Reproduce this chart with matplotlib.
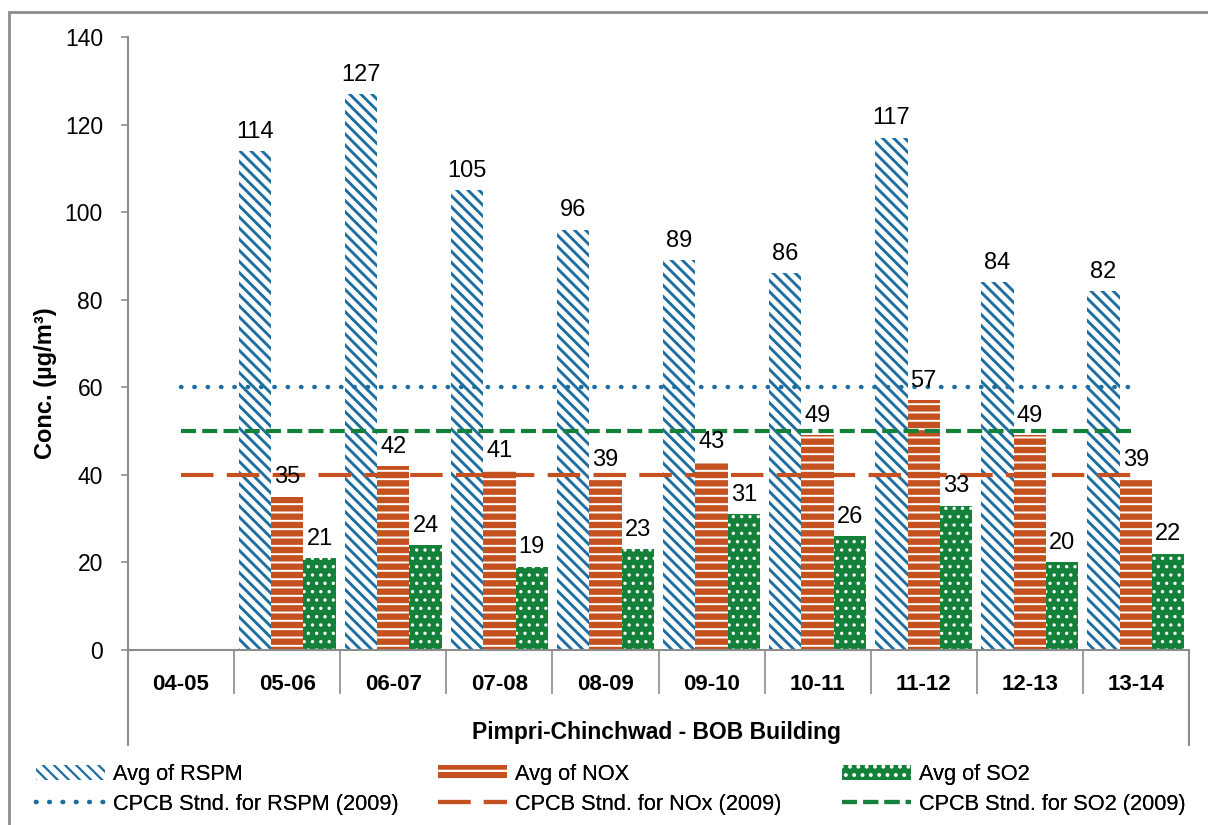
import numpy as np
import matplotlib
matplotlib.use('Agg')
import matplotlib.pyplot as plt
from matplotlib.lines import Line2D
from matplotlib.patches import Rectangle

# data
years = ['04-05', '05-06', '06-07', '07-08', '08-09',
         '09-10', '10-11', '11-12', '12-13', '13-14']
rspm = [np.nan, 114, 127, 105, 96, 89, 86, 117, 84, 82]
nox = [np.nan, 35, 42, 41, 39, 43, 49, 57, 49, 39]
so2 = [np.nan, 21, 24, 19, 23, 31, 26, 33, 20, 22]
std_rspm = 60
std_nox = 40
std_so2 = 50
site = 'Pimpri-Chinchwad - BOB Building'

BLUE = '#1f6ea1'
ORANGE = '#c65120'
GREEN = '#138139'
GREY = '#8c8c8c'

plt.rcParams['font.family'] = ['Liberation Sans', 'DejaVu Sans']
plt.rcParams['hatch.linewidth'] = 1.6


def hatch_lw(bars, lw):
    # per-artist hatch width where matplotlib supports it
    for p in bars:
        if hasattr(p, 'set_hatch_linewidth'):
            p.set_hatch_linewidth(lw)


def main():
    fig = plt.figure(figsize=(12.08, 8.25), dpi=100)
    ax = fig.add_axes([128 / 1208, 1 - 650 / 825, 1061 / 1208, 613 / 825])

    x = np.arange(len(years))
    w = 0.305
    b1 = ax.bar(x - w, rspm, w, color='white', edgecolor=BLUE, hatch='\\\\\\',
                lw=0, label='Avg of RSPM')
    b2 = ax.bar(x, nox, w, color=ORANGE, edgecolor='white', hatch='--',
                lw=0, label='Avg of NOX')
    b3 = ax.bar(x + w, so2, w, color=GREEN, edgecolor='white', hatch='..',
                lw=0, label='Avg of SO2')
    hatch_lw(b1, 2.1)
    hatch_lw(b2, 1.4)
    hatch_lw(b3, 1.2)

    # value labels above the bars
    for bars, vals in ((b1, rspm), (b2, nox), (b3, so2)):
        for rect, v in zip(bars, vals):
            if np.isnan(v):
                continue
            ax.annotate('%d' % round(v), (rect.get_x() + rect.get_width() / 2, v),
                        xytext=(0, 6), textcoords='offset points',
                        ha='center', va='bottom', fontsize=17)

    # CPCB standards, drawn from first to last category centre
    l1, = ax.plot([x[0], x[-1]], [std_rspm] * 2, color=BLUE, lw=3.2,
                  ls=(0, (0.1, 2.9)), dash_capstyle='round',
                  label='CPCB Stnd. for RSPM (2009)')
    l2, = ax.plot([x[0], x[-1]], [std_nox] * 2, color=ORANGE, lw=3,
                  ls=(0, (7.8, 3.2)), label='CPCB Stnd. for NOx (2009)')
    l3, = ax.plot([x[0], x[-1]], [std_so2] * 2, color=GREEN, lw=3,
                  ls=(0, (3.6, 1.5)), label='CPCB Stnd. for SO2 (2009)')

    ax.set_xlim(-0.5, len(years) - 0.5)
    ax.set_ylim(0, 140)
    ax.set_yticks(np.arange(0, 141, 20))
    ax.tick_params(axis='y', length=5, color=GREY, width=1.2, pad=13,
                   labelsize=16.5)

    ax.set_xticks(x)
    ax.set_xticklabels(years, fontweight='bold', fontsize=16)
    ax.set_xticks(np.arange(-0.5, len(years)), minor=True)
    ax.tick_params(axis='x', which='major', length=0, pad=17)
    ax.tick_params(axis='x', which='minor', length=32, color=GREY, width=1.2)

    for s in ('top', 'right'):
        ax.spines[s].set_visible(False)
    for s in ('left', 'bottom'):
        ax.spines[s].set_color(GREY)
        ax.spines[s].set_linewidth(1.5)

    # multi-level category axis: outer lines going down to the site label
    for xa in (0, 1):
        ax.add_line(Line2D([xa, xa], [0, -95 / 613], transform=ax.transAxes,
                           color=GREY, lw=1.5, clip_on=False))

    ax.set_ylabel('Conc. (µg/m³)', fontweight='bold', fontsize=17)
    ax.yaxis.set_label_coords((57 - 128) / 1061, (650 - 383) / 613)
    fig.text(657 / 1208, 1 - 733 / 825, site, ha='center', va='center',
             fontweight='bold', fontsize=16.5)

    # one legend column per pollutant, placed like the original
    cols = [(b1, l1, 36), (b2, l2, 438), (b3, l3, 842)]
    for bar, line, xpix in cols:
        leg = fig.legend(handles=[bar, line],
                         labels=[bar.get_label(), line.get_label()],
                         frameon=False, fontsize=15.7, handlelength=3.15,
                         handleheight=0.65, handletextpad=0.37,
                         labelspacing=0.4, borderpad=0, borderaxespad=0,
                         loc='upper left',
                         bbox_to_anchor=(xpix / 1208, 1 - 764 / 825))
        fig.add_artist(leg)

    # outer chart border
    fig.patches.append(Rectangle((9 / 1208, -0.1), 1.2, 1 - 12 / 825 + 0.1,
                                 transform=fig.transFigure, fill=False,
                                 edgecolor=GREY, lw=2))

    fig.savefig('out.png', dpi=100)


if __name__ == '__main__':
    main()
